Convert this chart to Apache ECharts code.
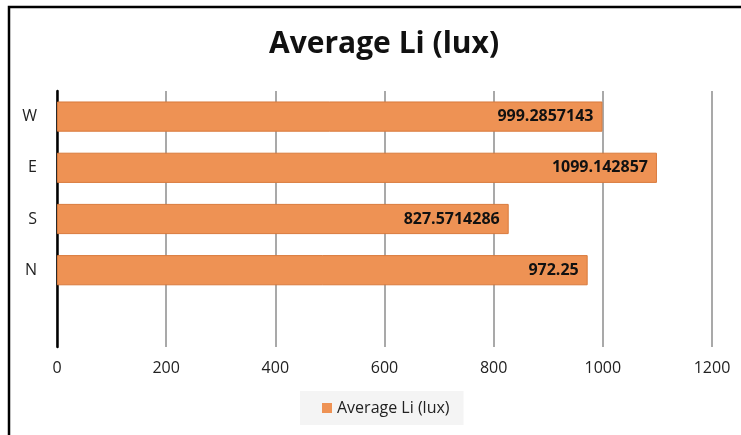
<!DOCTYPE html>
<html>
<head>
<meta charset="utf-8">
<script src="https://cdn.jsdelivr.net/npm/echarts@6/dist/echarts.min.js"></script>
<style>
html,body{margin:0;padding:0;background:#fff;}
#main{width:741px;height:435px;}
</style>
</head>
<body>
<div id="main"></div>
<script>
// categories bottom -> top, first slot is empty in the original
var dirs = ['', 'N', 'S', 'E', 'W'];
var avgLi = [null, 972.25, 827.5714286, 1099.142857, 999.2857143];
var xTicks = [0, 200, 400, 600, 800, 1000, 1200];

var chart = echarts.init(document.getElementById('main'));
var option = {
    backgroundColor: '#fff',
    animation: false,
    title: {
        text: 'Average Li (lux)',
        left: 379,
        textAlign: 'center',
        top: 24,
        textStyle: {
            fontFamily: 'Open Sans',
            fontWeight: 'bold',
            fontSize: 30,
            color: '#111'
        }
    },
    grid: {
        left: 57,
        right: 29,
        top: 91,
        bottom: 88
    },
    legend: {
        bottom: 10,
        left: 300,
        icon: 'rect',
        itemWidth: 10,
        itemHeight: 10,
        itemGap: 6,
        padding: [9, 14, 9, 22],
        backgroundColor: '#f4f4f4',
        itemStyle: { borderWidth: 0 },
        textStyle: { fontFamily: 'Open Sans', fontSize: 16, color: '#222' },
        data: ['Average Li (lux)']
    },
    xAxis: {
        type: 'value',
        min: xTicks[0],
        max: xTicks[xTicks.length - 1],
        interval: 200,
        axisLine: { show: false },
        axisTick: { show: false },
        axisLabel: {
            margin: 13,
            fontFamily: 'Open Sans',
            fontSize: 16,
            color: '#222',
            formatter: function (v) { return String(v); }
        },
        splitLine: { lineStyle: { color: '#8c8c8c', width: 1.5 } }
    },
    yAxis: {
        type: 'category',
        data: dirs,
        axisLine: { lineStyle: { color: '#000', width: 2.5 } },
        axisTick: { show: false },
        axisLabel: {
            margin: 20,
            fontFamily: 'Open Sans',
            fontSize: 16,
            color: '#222'
        }
    },
    series: [{
        name: 'Average Li (lux)',
        type: 'bar',
        data: avgLi,
        barCategoryGap: '41%',
        itemStyle: {
            color: '#ee9254',
            borderColor: '#d97a3c',
            borderWidth: 1
        },
        label: {
            show: true,
            position: 'insideRight',
            distance: 9,
            fontFamily: 'Open Sans',
            fontWeight: 'bold',
            fontSize: 16,
            color: '#111',
            formatter: function (p) { return String(p.value); }
        }
    }],
    graphic: [{
        type: 'polyline',
        shape: { points: [[9, 435], [9, 7], [741, 7]] },
        style: { stroke: '#000', lineWidth: 2.5, fill: null }
    }]
};
chart.setOption(option);
</script>
</body>
</html>
